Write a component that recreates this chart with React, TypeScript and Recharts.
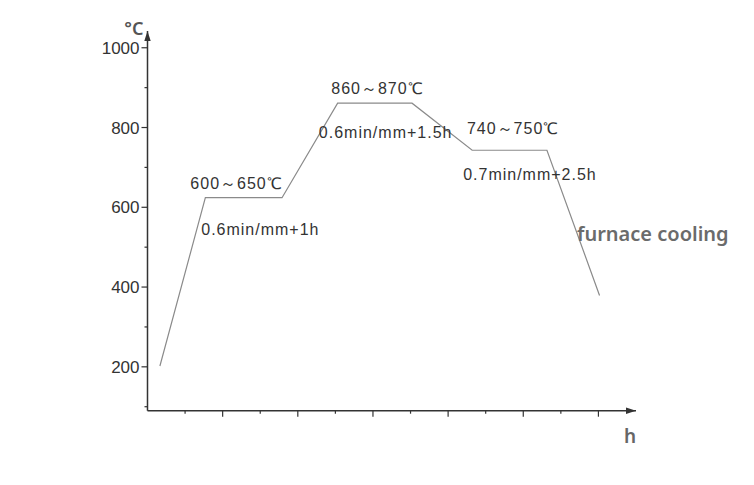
import React from 'react';
import { ComposedChart, Line, Scatter, XAxis, YAxis, ReferenceDot, Label } from 'recharts';

// Heat-treatment profile (time in arbitrary hour units, temperature in °C)
const profileTime = [0.33, 1.54, 3.58, 5.06, 7.04, 8.64, 10.63, 12.03];
const profileTemp = [202, 624, 624, 861, 861, 743, 743, 379];

// Axis ticks
const yTicks = [100, 200, 300, 400, 500, 600, 700, 800, 900, 1000];
const yLabelledTicks = [200, 400, 600, 800, 1000];
const xTicks = [1, 2, 3, 4, 5, 6, 7, 8, 9, 10, 11, 12];
const xDomain = [0, 13];
const yDomain = [90, 1042];

// Annotations
const noteText = ['600～650℃', '0.6min/mm+1h', '860～870℃', '0.6min/mm+1.5h', '740～750℃', '0.7min/mm+2.5h', 'furnace cooling'];
const noteX = [1.14, 1.43, 4.89, 4.56, 8.5, 8.4, 11.43];
const noteY = [647, 531, 885, 773, 785, 668, 516];
const noteKind = ['plain', 'plain', 'plain', 'plain', 'plain', 'plain', 'remark'];

const axisLabelY = '°C';
const axisLabelX = 'h';

const profileData = profileTime.map((x, i) => ({ x, y: profileTemp[i] }));
const noteData = noteText.map((text, i) => ({ x: noteX[i], y: noteY[i], text, kind: noteKind[i] }));

const AXIS = '#333333';
const LINE = '#8a8a8a';
const SANS = "'Liberation Sans', Arial, sans-serif";
const BOLD = "'Noto Sans', 'Open Sans', sans-serif";

const YTick = (props: any) => {
  const { x, y, payload } = props;
  const v = payload.value;
  const major = yLabelledTicks.includes(v);
  return (
    <g>
      <line x1={x - (major ? 6 : 3)} x2={x} y1={y} y2={y} stroke={AXIS} strokeWidth={1.2} />
      {major && (
        <text x={x - 8} y={y} dy="0.36em" textAnchor="end" fontFamily={SANS} fontSize={17} fill="#333">
          {v}
        </text>
      )}
    </g>
  );
};

const XTick = (props: any) => {
  const { x, y, payload } = props;
  const major = payload.value % 2 === 0;
  return <line x1={x} x2={x} y1={y} y2={y + (major ? 6 : 3)} stroke={AXIS} strokeWidth={1.2} />;
};

const NoteShape = (props: any) => {
  const { cx, cy, payload } = props;
  if (cx == null || cy == null) return null;
  if (payload.kind === 'remark') {
    return (
      <text x={cx} y={cy} fontFamily={BOLD} fontWeight={600} fontSize={20} fill="#6b6b6b">
        {payload.text}
      </text>
    );
  }
  return (
    <text x={cx} y={cy} fontFamily={SANS} fontSize={16} letterSpacing={1} fill="#333">
      {payload.text}
    </text>
  );
};

const XArrow = (props: any) => {
  const { cx, cy } = props;
  return <path d={`M${cx},${cy} L${cx - 10},${cy - 3.2} L${cx - 10},${cy + 3.2} Z`} fill={AXIS} />;
};

const YArrow = (props: any) => {
  const { cx, cy } = props;
  return <path d={`M${cx},${cy} L${cx - 3.2},${cy + 10} L${cx + 3.2},${cy + 10} Z`} fill={AXIS} />;
};

const YAxisTitle = (props: any) => {
  const vb = props.viewBox || {};
  const ax = (vb.x ?? 0) + (vb.width ?? 0);
  return (
    <text x={ax - 4} y={(vb.y ?? 0) + 4} textAnchor="end" fontFamily={BOLD} fontWeight={600} fontSize={18} fill="#555">
      {axisLabelY}
    </text>
  );
};

const XAxisTitle = (props: any) => {
  const vb = props.viewBox || {};
  return (
    <text x={(vb.x ?? 0) + (vb.width ?? 0) - 12} y={(vb.y ?? 0) + 32.7} fontFamily={BOLD} fontWeight={600} fontSize={19} fill="#666">
      {axisLabelX}
    </text>
  );
};

export default function App() {
  return (
    <div style={{ width: 746, height: 477, background: '#fff' }}>
      <ComposedChart width={746} height={477} margin={{ top: 23, right: 118, bottom: 44.3, left: 79.5 }}>
        <XAxis
          type="number"
          dataKey="x"
          domain={xDomain}
          ticks={xTicks}
          interval={0}
          tickSize={0}
          tickMargin={0}
          tickLine={false}
          tick={<XTick />}
          axisLine={{ stroke: AXIS, strokeWidth: 1.5 }}
          height={30}
          allowDecimals
        >
          <Label content={<XAxisTitle />} />
        </XAxis>
        <YAxis
          type="number"
          dataKey="y"
          domain={yDomain}
          ticks={yTicks}
          interval={0}
          tickSize={0}
          tickMargin={0}
          tickLine={false}
          tick={<YTick />}
          axisLine={{ stroke: AXIS, strokeWidth: 1.5 }}
          width={60}
        >
          <Label content={<YAxisTitle />} />
        </YAxis>
        <Line
          data={profileData}
          dataKey="y"
          type="linear"
          stroke={LINE}
          strokeWidth={1.2}
          dot={false}
          activeDot={false}
          isAnimationActive={false}
        />
        <Scatter data={noteData} dataKey="y" shape={NoteShape} isAnimationActive={false} />
        <ReferenceDot x={xDomain[1]} y={yDomain[0]} r={0} ifOverflow="visible" shape={XArrow} />
        <ReferenceDot x={xDomain[0]} y={yDomain[1]} r={0} ifOverflow="visible" shape={YArrow} />
      </ComposedChart>
    </div>
  );
}
